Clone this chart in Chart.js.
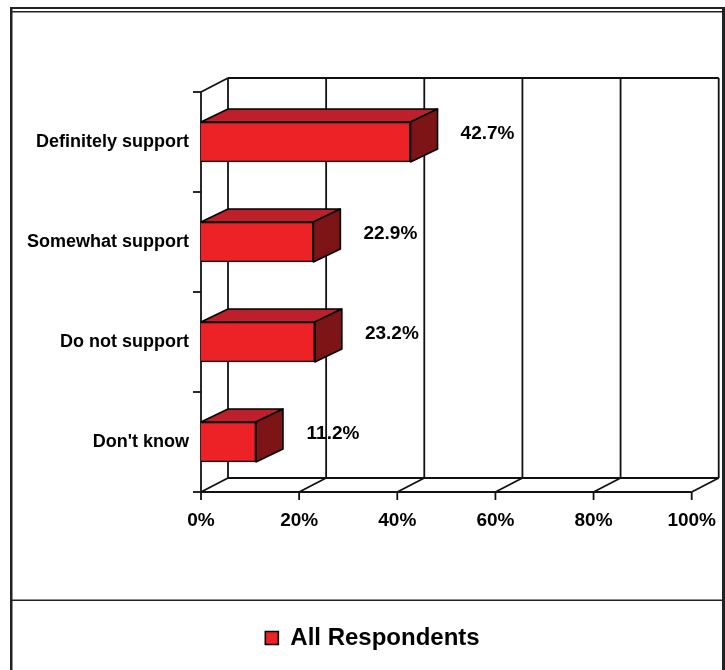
<!DOCTYPE html>
<html>
<head>
<meta charset="utf-8">
<script src="https://cdn.jsdelivr.net/npm/chart.js@4/dist/chart.umd.min.js"></script>
<style>
  html, body { margin: 0; padding: 0; background: #fff; }
  canvas { display: block; }
</style>
</head>
<body>
<canvas id="chart" width="725" height="670"></canvas>
<script>
// データ
const categories = ['Definitely support', 'Somewhat support', 'Do not support', "Don't know"];
const allRespondents = [42.7, 22.9, 23.2, 11.2];
const seriesName = 'All Respondents';
const tickValues = [0, 20, 40, 60, 80, 100];

const FONT = "'Liberation Sans', Arial, Helvetica, sans-serif";
// 3D の奥行き
const DX = 27, DY = -14;
const BAR_DX = 27, BAR_DY = -13;

const colors = {
    front: '#ed2226',
    top: '#bd1f2b',
    side: '#7d1517'
};

// 外枠と凡例の区切り線
const framePlugin = {
    id: 'frame',
    beforeDraw(chart) {
        const ctx = chart.ctx;
        ctx.save();
        ctx.fillStyle = '#fff';
        ctx.fillRect(0, 0, chart.width, chart.height);
        ctx.fillStyle = '#222';
        ctx.fillRect(10, 7, 2.5, chart.height - 7);
        ctx.fillRect(722, 7, 3, chart.height - 7);
        ctx.fillRect(10, 7, 715, 2);
        ctx.fillRect(12, 11, 710, 1.5);
        ctx.fillRect(12, 599.5, 710, 1.5);
        ctx.restore();
    }
};

// 3D の壁と床
const wallPlugin = {
    id: 'walls',
    beforeDatasetsDraw(chart) {
        const ctx = chart.ctx;
        const area = chart.chartArea;
        const xs = chart.scales.x;
        const left = area.left, right = area.right, top = area.top, bottom = area.bottom;
        ctx.save();
        ctx.strokeStyle = '#111';
        ctx.lineWidth = 1.8;
        const line = (x1, y1, x2, y2) => {
            ctx.beginPath();
            ctx.moveTo(x1, y1);
            ctx.lineTo(x2, y2);
            ctx.stroke();
        };
        // 奥の壁
        line(left + DX, top + DY, right + DX, top + DY);
        tickValues.forEach(v => {
            const px = xs.getPixelForValue(v);
            line(px + DX, top + DY, px + DX, bottom + DY);
            // 床の斜線
            line(px, bottom, px + DX, bottom + DY);
            // 目盛り
            line(px, bottom, px, bottom + 8);
        });
        // 床
        line(left, bottom, right, bottom);
        line(left + DX, bottom + DY, right + DX, bottom + DY);
        // 左の壁
        line(left, top, left, bottom);
        line(left, top, left + DX, top + DY);
        const n = categories.length;
        for (let i = 0; i <= n; i++) {
            const y = top + (bottom - top) * i / n;
            line(left - 8, y, left, y);
        }
        ctx.restore();
    },
    afterDatasetsDraw(chart) {
        const ctx = chart.ctx;
        const meta = chart.getDatasetMeta(0);
        ctx.save();
        ctx.strokeStyle = '#000';
        ctx.lineWidth = 1.6;
        ctx.lineJoin = 'round';
        meta.data.forEach((bar, i) => {
            const x0 = bar.base, x1 = bar.x;
            const y0 = bar.y - bar.height / 2, y1 = bar.y + bar.height / 2;
            // 上面
            ctx.beginPath();
            ctx.moveTo(x0, y0);
            ctx.lineTo(x0 + BAR_DX, y0 + BAR_DY);
            ctx.lineTo(x1 + BAR_DX, y0 + BAR_DY);
            ctx.lineTo(x1, y0);
            ctx.closePath();
            ctx.fillStyle = colors.top;
            ctx.fill();
            ctx.stroke();
            // 側面
            ctx.beginPath();
            ctx.moveTo(x1, y0);
            ctx.lineTo(x1 + BAR_DX, y0 + BAR_DY);
            ctx.lineTo(x1 + BAR_DX, y1 + BAR_DY);
            ctx.lineTo(x1, y1);
            ctx.closePath();
            ctx.fillStyle = colors.side;
            ctx.fill();
            ctx.stroke();
            // 値ラベル
            ctx.fillStyle = '#000';
            ctx.font = 'bold 19px ' + FONT;
            ctx.textAlign = 'center';
            ctx.textBaseline = 'middle';
            ctx.fillText(allRespondents[i].toFixed(1) + '%', x1 + 77, bar.y - 8);
        });
        ctx.restore();
    }
};

new Chart(document.getElementById('chart'), {
    type: 'bar',
    data: {
        labels: categories,
        datasets: [{
            label: seriesName,
            data: allRespondents,
            backgroundColor: colors.front,
            borderColor: '#000',
            borderWidth: 1.6,
            barThickness: 40
        }]
    },
    options: {
        indexAxis: 'y',
        responsive: false,
        devicePixelRatio: 1,
        animation: false,
        layout: {
            padding: { left: 25, right: 5, top: 92, bottom: 10 }
        },
        plugins: {
            legend: {
                display: true,
                position: 'bottom',
                labels: {
                    color: '#000',
                    boxWidth: 13,
                    boxHeight: 13,
                    padding: 10,
                    font: { family: FONT, size: 24, weight: 'bold' }
                }
            },
            title: { display: false },
            tooltip: { enabled: false }
        },
        scales: {
            x: {
                min: 0,
                max: 100,
                grid: { display: false },
                border: { display: false },
                ticks: {
                    stepSize: 20,
                    padding: 9,
                    color: '#000',
                    font: { family: FONT, size: 19, weight: 'bold' },
                    callback: v => v + '%'
                },
                afterFit(scale) { scale.height = 124; }
            },
            y: {
                grid: { display: false },
                border: { display: false },
                ticks: {
                    padding: 4,
                    color: '#000',
                    font: { family: FONT, size: 18, weight: 'bold' }
                },
                afterFit(scale) { scale.width = 176; }
            }
        }
    },
    plugins: [framePlugin, wallPlugin]
});
</script>
</body>
</html>
